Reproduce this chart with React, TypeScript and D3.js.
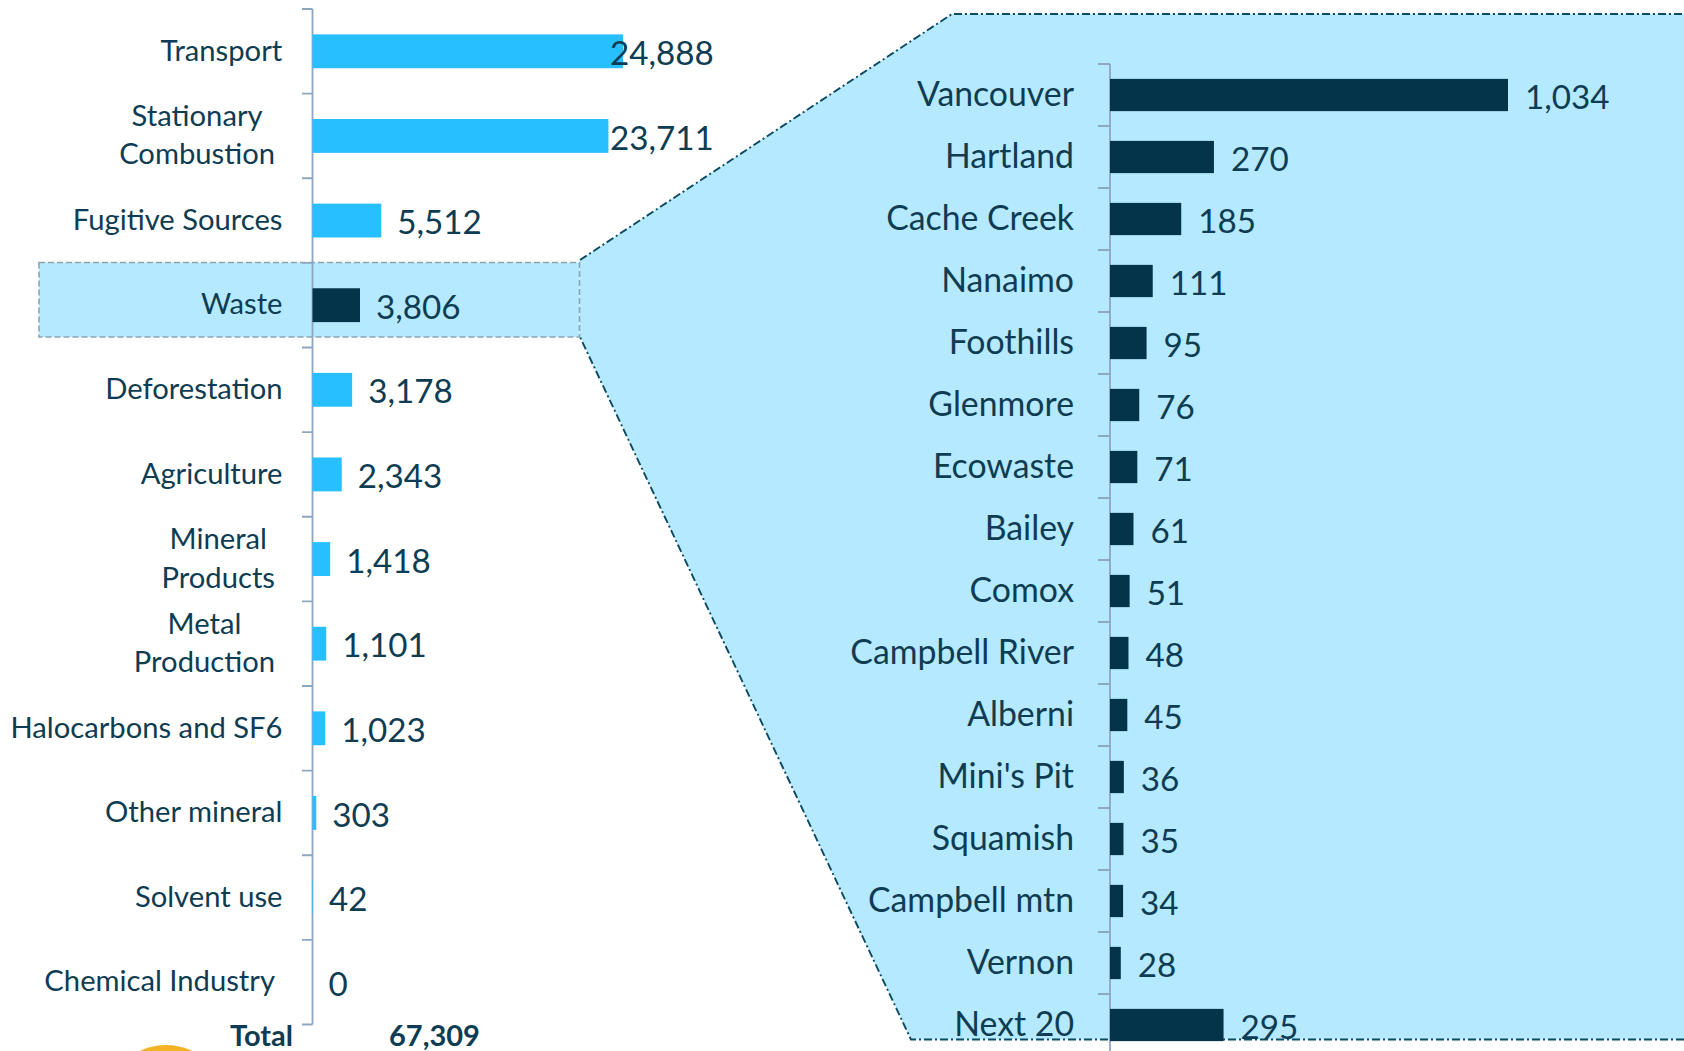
import React, { useEffect, useRef } from 'react';
import * as d3 from 'd3';

const sectorNames = [
  ['Transport'],
  ['Stationary', 'Combustion'],
  ['Fugitive Sources'],
  ['Waste'],
  ['Deforestation'],
  ['Agriculture'],
  ['Mineral', 'Products'],
  ['Metal', 'Production'],
  ['Halocarbons and SF6'],
  ['Other mineral'],
  ['Solvent use'],
  ['Chemical Industry'],
];
const sectorValues = [24888, 23711, 5512, 3806, 3178, 2343, 1418, 1101, 1023, 303, 42, 0];

const siteNames = [
  'Vancouver', 'Hartland', 'Cache Creek', 'Nanaimo', 'Foothills', 'Glenmore', 'Ecowaste', 'Bailey',
  'Comox', 'Campbell River', 'Alberni', "Mini's Pit", 'Squamish', 'Campbell mtn', 'Vernon', 'Next 20',
];
const siteValues = [1034, 270, 185, 111, 95, 76, 71, 61, 51, 48, 45, 36, 35, 34, 28, 295];

const totalValue = 67309;

const INK = '#0e3c52';
const DARK = '#03344a';
const BRIGHT = '#27bfff';
const PALE = '#b5e9ff';
const AXIS = '#8fa6bf';
const FONT = 'Lato, sans-serif';

const fmt = d3.format(',');

export default function App() {
  const ref = useRef<SVGSVGElement>(null);

  useEffect(() => {
    const svg = d3.select(ref.current);
    svg.selectAll('*').remove();

    // zoom wedge behind everything, from the Waste row out to the right panel
    svg.append('path')
      .attr('d', 'M580,260 L952,14 L1684,14 L1684,1039.5 L911,1039.5 L580,337 Z')
      .attr('fill', PALE);
    svg.append('path')
      .attr('d', 'M580,260 L952,14 L1684,14 M1684,1039.5 L911,1039.5 L580,337')
      .attr('fill', 'none')
      .attr('stroke', '#0b4a63')
      .attr('stroke-width', 1.9)
      .attr('stroke-dasharray', '8 3 2 3');
    svg.append('rect')
      .attr('x', 39).attr('y', 262.5)
      .attr('width', 540.5).attr('height', 74.5)
      .attr('fill', PALE)
      .attr('stroke', '#8aa5b0')
      .attr('stroke-width', 1.6)
      .attr('stroke-dasharray', '6 3');

    // left panel
    const xLeft = d3.scaleLinear().domain([0, 25000]).range([312.5, 624.5]);
    const yLeft = d3.scaleBand<number>()
      .domain(d3.range(sectorValues.length))
      .range([9, 1024.5])
      .paddingInner(0.6)
      .paddingOuter(0.3);

    const left = svg.append('g');
    left.append('path')
      .attr('d', d3.range(sectorValues.length + 1)
        .map((i) => `M302,${9 + i * yLeft.step()}H312.5`).join('') + 'M312.5,9V1024.5')
      .attr('fill', 'none')
      .attr('stroke', AXIS)
      .attr('stroke-width', 1.8);

    left.selectAll('rect.bar')
      .data(sectorValues)
      .enter()
      .append('rect')
      .attr('class', 'bar')
      .attr('x', xLeft(0))
      .attr('y', (d, i) => yLeft(i)!)
      .attr('width', (d) => xLeft(d) - xLeft(0))
      .attr('height', yLeft.bandwidth())
      .attr('fill', (d, i) => (i === 3 ? DARK : BRIGHT));

    left.selectAll('text.val')
      .data(sectorValues)
      .enter()
      .append('text')
      .attr('class', 'val')
      .attr('x', (d) => Math.min(xLeft(d) + 16, 610))
      .attr('y', (d, i) => yLeft(i)! + yLeft.bandwidth() / 2 + 2)
      .attr('dy', '0.35em')
      .attr('font-size', 33.2)
      .text((d) => fmt(d));

    sectorNames.forEach((lines, i) => {
      const cy = yLeft(i)! + yLeft.bandwidth() / 2;
      const label = left.append('text')
        .attr('text-anchor', 'middle')
        .attr('font-size', 29.2);
      lines.forEach((line, j) => {
        label.append('tspan')
          .attr('x', 0)
          .attr('y', cy - 1 + (j - (lines.length - 1) / 2) * 38.5)
          .attr('dy', '0.35em')
          .text(line);
      });
      // centred block, right edge on the label gutter; wrapped rows and the last one sit further in
      const w = (label.node() as SVGTextElement).getBBox().width;
      const right = lines.length > 1 || i === sectorNames.length - 1 ? 275 : 282.5;
      label.attr('transform', `translate(${right - w / 2},0)`);
    });

    // total row
    left.append('text')
      .attr('x', 293).attr('y', 1036).attr('dy', '0.35em')
      .attr('text-anchor', 'end')
      .attr('font-size', 29).attr('font-weight', 700)
      .text('Total');
    left.append('text')
      .attr('x', 389).attr('y', 1036).attr('dy', '0.35em')
      .attr('font-size', 29).attr('font-weight', 700)
      .text(fmt(totalValue));

    // logo peeking in at the bottom edge
    left.append('circle')
      .attr('cx', 166).attr('cy', 1105).attr('r', 60)
      .attr('fill', '#f5b324');

    // right panel
    const xRight = d3.scaleLinear().domain([0, 1034]).range([1110, 1508]);
    const yRight = d3.scaleBand<number>()
      .domain(d3.range(siteValues.length))
      .range([64, 1056])
      .paddingInner(0.48)
      .paddingOuter(0.24);

    const right = svg.append('g');
    right.append('path')
      .attr('d', d3.range(siteValues.length)
        .map((i) => `M1098,${64 + i * yRight.step()}H1110`).join('') + 'M1110,64V1056')
      .attr('fill', 'none')
      .attr('stroke', AXIS)
      .attr('stroke-width', 1.8);

    right.selectAll('rect.bar')
      .data(siteValues)
      .enter()
      .append('rect')
      .attr('class', 'bar')
      .attr('x', xRight(0))
      .attr('y', (d, i) => yRight(i)!)
      .attr('width', (d) => xRight(d) - xRight(0))
      .attr('height', yRight.bandwidth())
      .attr('fill', DARK);

    right.selectAll('text.val')
      .data(siteValues)
      .enter()
      .append('text')
      .attr('class', 'val')
      .attr('x', (d) => xRight(d) + 17)
      .attr('y', (d, i) => yRight(i)! + yRight.bandwidth() / 2 + 2)
      .attr('dy', '0.35em')
      .attr('font-size', 33.2)
      .text((d) => fmt(d));

    right.selectAll('text.cat')
      .data(siteNames)
      .enter()
      .append('text')
      .attr('class', 'cat')
      .attr('x', 1074)
      .attr('y', (d, i) => yRight(i)! + yRight.bandwidth() / 2 - 0.5)
      .attr('dy', '0.35em')
      .attr('text-anchor', 'end')
      .attr('font-size', 33.8)
      .text((d) => d);
  }, []);

  return (
    <svg
      ref={ref}
      width={1684}
      height={1051}
      style={{ position: 'fixed', left: 0, top: 0, background: '#fff' }}
      fontFamily={FONT}
      fill={INK}
    />
  );
}
